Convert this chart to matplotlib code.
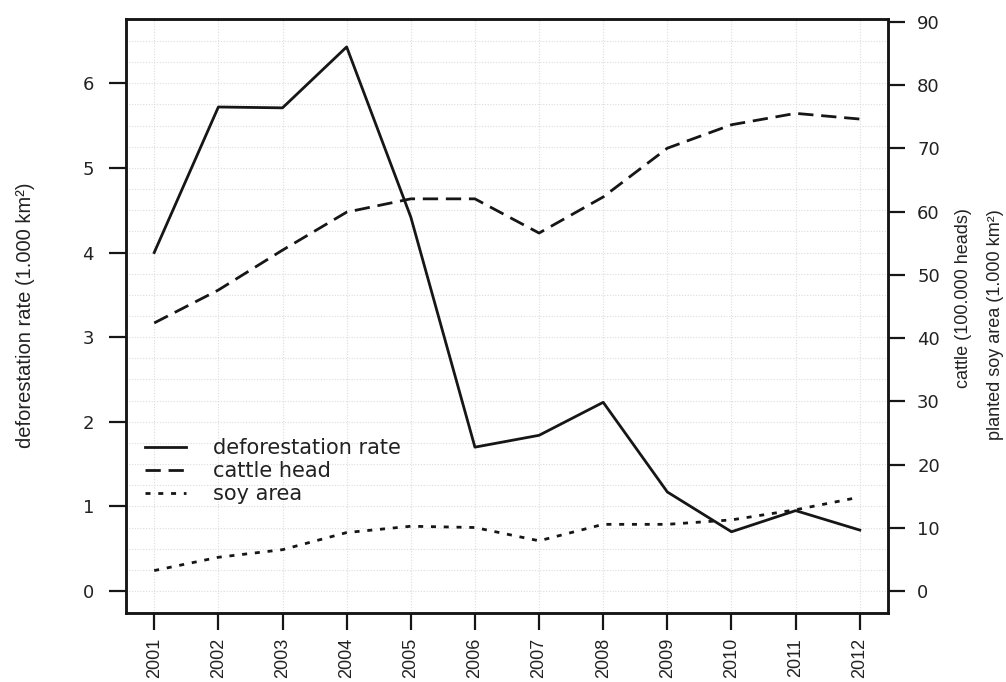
import matplotlib
matplotlib.use("Agg")
import matplotlib.pyplot as plt
from matplotlib.lines import Line2D
import numpy as np

plt.rcParams['font.family'] = ['Liberation Sans', 'DejaVu Sans']

years = [2001, 2002, 2003, 2004, 2005, 2006, 2007, 2008, 2009, 2010, 2011, 2012]
deforestation = [4.00, 5.72, 5.71, 6.43, 4.42, 1.70, 1.84, 2.23, 1.17, 0.70, 0.95, 0.72]
cattle = [42.4, 47.6, 53.9, 59.9, 62.0, 62.0, 56.6, 62.3, 70.0, 73.7, 75.5, 74.6]
soy = [3.3, 5.4, 6.6, 9.3, 10.3, 10.1, 8.0, 10.6, 10.6, 11.3, 12.9, 14.9]

left_ticks = [0, 1, 2, 3, 4, 5, 6]
right_ticks = [0, 10, 20, 30, 40, 50, 60, 70, 80, 90]

txt = '#222222'
ink = '#161616'
wide = ['DejaVu Sans']          # wider face for horizontal text
narrow = ['Liberation Sans', 'DejaVu Sans']

dash_cattle = (0, (5.5, 2.8))
dash_soy = (0, (1.8, 2.8))
lw = 2.0

fig = plt.figure(figsize=(10.06, 6.82), dpi=100)
ax = fig.add_axes([126 / 1006, 69 / 682, 762 / 1006, 594 / 682])
ax2 = ax.twinx()

ax.set_xlim(2000.56, 2012.44)
ax.set_ylim(-0.26, 6.76)
ax2.set_ylim(-3.4, 90.4)

# faint dotted background grid
for gy in np.arange(-0.25, 6.8, 0.25):
    ax.axhline(gy, color='#dcdcdc', lw=0.8, ls=(0, (1, 1.5)), zorder=0)
for gx in years:
    ax.axvline(gx, color='#dcdcdc', lw=0.8, ls=(0, (1, 1.5)), zorder=0)

ax.plot(years, deforestation, color=ink, lw=lw, zorder=3)
ax2.plot(years, cattle, color=ink, lw=lw, ls=dash_cattle, zorder=3)
ax2.plot(years, soy, color=ink, lw=lw, ls=dash_soy, zorder=3)

ax.set_xticks(years)
ax.set_xticklabels([str(y) for y in years], rotation=90, fontsize=13,
                   color=txt, family=narrow)
ax.set_yticks(left_ticks)
ax.set_yticklabels([str(t) for t in left_ticks], fontsize=13, color=txt, family=wide)
ax2.set_yticks(right_ticks)
ax2.set_yticklabels([str(t) for t in right_ticks], fontsize=13, color=txt, family=wide)

ax.tick_params(axis='y', length=12, width=1.6, pad=11, color=ink)
ax.tick_params(axis='x', length=12, width=1.6, pad=6, color=ink)
ax2.tick_params(axis='y', length=12, width=1.6, pad=9, color=ink)

for a in (ax, ax2):
    for s in a.spines.values():
        s.set_linewidth(1.8)
        s.set_color(ink)

fig.text(26 / 1006, 1 - 315 / 682, 'deforestation rate (1.000 km²)', rotation=90,
         ha='center', va='center', fontsize=14.5, color=txt, family=narrow)
fig.text(964 / 1006, 1 - 298 / 682, 'cattle (100.000 heads)', rotation=90,
         ha='center', va='center', fontsize=13, color=txt, family=narrow)
fig.text(995 / 1006, 1 - 325 / 682, 'planted soy area (1.000 km²)', rotation=90,
         ha='center', va='center', fontsize=13, color=txt, family=narrow)

handles = [
    Line2D([], [], color=ink, lw=lw),
    Line2D([], [], color=ink, lw=lw, ls=dash_cattle),
    Line2D([], [], color=ink, lw=lw, ls=dash_soy),
]
labels = ['deforestation rate', 'cattle head', 'soy area']
leg = ax.legend(handles, labels, loc='center left',
                bbox_to_anchor=(19 / 762, (613 - 471) / 594),
                frameon=False, prop={'family': wide, 'size': 15},
                borderpad=0, borderaxespad=0,
                handlelength=1.95, handletextpad=1.3, labelspacing=0.15)
for t in leg.get_texts():
    t.set_color(txt)
leg.set_zorder(5)

fig.savefig('out.png', dpi=100)
